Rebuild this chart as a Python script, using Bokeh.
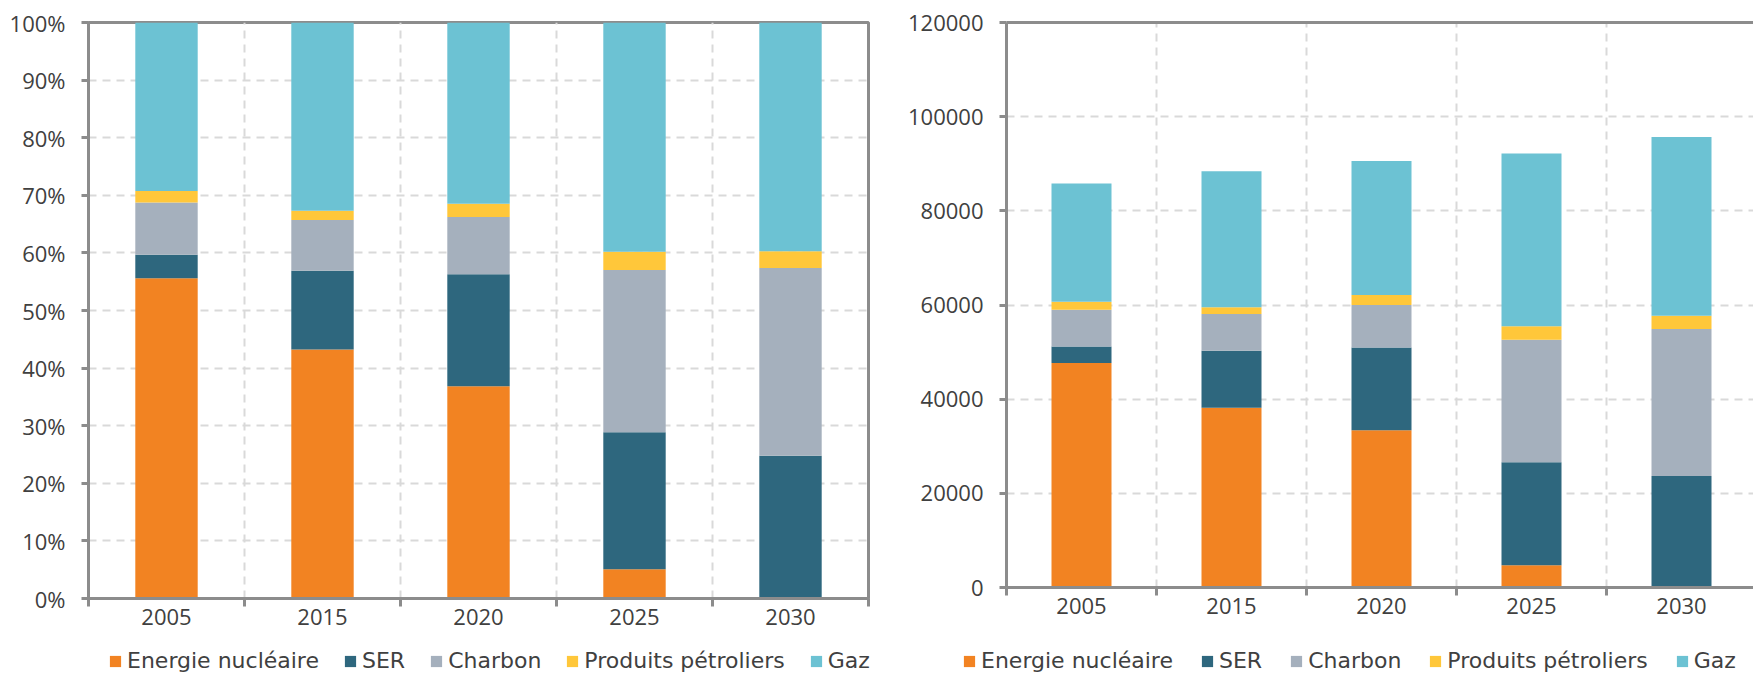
from bokeh.plotting import figure
from bokeh.layouts import row, column
from bokeh.models import (Range1d, FixedTicker, NumeralTickFormatter, Legend,
                          LegendItem, LinearAxis, ColumnDataSource)
from bokeh.embed import file_html
from bokeh.resources import INLINE

years = ["2005", "2015", "2020", "2025", "2030"]
series_names = ["Energie nucléaire", "SER", "Charbon", "Produits pétroliers", "Gaz"]
nucleaire = [47700, 38200, 33400, 4700, 0]
ser = [3500, 12100, 17600, 21900, 23700]
charbon = [7800, 7800, 9000, 26000, 31200]
petrole = [1700, 1400, 2100, 2900, 2800]
gaz = [25100, 28900, 28500, 36700, 38000]
pct_ticks = [0, 0.1, 0.2, 0.3, 0.4, 0.5, 0.6, 0.7, 0.8, 0.9, 1.0]
abs_ticks = [0, 20000, 40000, 60000, 80000, 100000, 120000]

colors = ["#F28322", "#2E677E", "#A5B0BD", "#FFC73A", "#6CC2D3"]
AXIS = "#8C8C8C"
GRID = "#D9D9D9"
TEXT = "#404040"

values = [nucleaire, ser, charbon, petrole, gaz]
keys = ["nuc", "ser", "cha", "pet", "gaz"]
xs = [i + 0.5 for i in range(len(years))]
totals = [sum(v[i] for v in values) for i in range(len(years))]

src_abs = ColumnDataSource(dict(x=xs, **{k: v for k, v in zip(keys, values)}))
src_pct = ColumnDataSource(dict(x=xs, **{k: [v[i] / totals[i] for i in range(len(years))]
                                          for k, v in zip(keys, values)}))

MAIN_H = 638
LEG_H = 37


def make_fig(src, fw, fh, xmax, ymax, yticks, fmt, left, right, top, outline):
    p = figure(frame_width=fw, frame_height=fh,
               x_range=Range1d(0, xmax), y_range=Range1d(0, ymax),
               output_backend="svg", toolbar_location=None,
               min_border_left=left, min_border_right=right, min_border_top=top,
               min_border_bottom=MAIN_H - top - fh)
    p.vbar_stack(keys, x="x", width=0.4, color=colors, line_color=None, source=src)

    xa = p.xaxis[0]
    xa.ticker = FixedTicker(ticks=xs, minor_ticks=list(range(len(years) + 1)))
    xa.major_label_overrides = {x: y for x, y in zip(xs, years)}
    xa.major_tick_out = 0
    xa.major_tick_in = 0
    xa.minor_tick_out = 8
    xa.minor_tick_in = 0
    xa.minor_tick_line_color = AXIS
    xa.minor_tick_line_width = 3
    xa.major_label_standoff = 2

    ya = p.yaxis[0]
    ya.ticker = FixedTicker(ticks=yticks, minor_ticks=[])
    ya.formatter = fmt
    ya.major_tick_out = 7
    ya.major_tick_in = 0
    ya.major_tick_line_color = AXIS
    ya.major_tick_line_width = 3
    ya.major_label_standoff = 16

    for ax in (xa, ya):
        ax.axis_line_color = AXIS
        ax.axis_line_width = 3
        ax.major_label_text_font = "Open Sans"
        ax.major_label_text_font_size = "22px"
        ax.major_label_text_color = TEXT

    p.xgrid.ticker = FixedTicker(ticks=[1, 2, 3, 4])
    p.ygrid.ticker = FixedTicker(ticks=yticks[1:-1])
    for g in (p.xgrid, p.ygrid):
        g.grid_line_color = GRID
        g.grid_line_width = 2
        g.grid_line_dash = "8 6"

    if outline:
        p.outline_line_color = AXIS
        p.outline_line_width = 3
        p.outline_line_alpha = 1
    else:
        p.outline_line_color = None
        top_ax = LinearAxis(ticker=FixedTicker(ticks=[]), axis_line_color=AXIS,
                            axis_line_width=3, major_label_text_font_size="0px",
                            major_tick_out=0, major_tick_in=0, minor_tick_out=0,
                            minor_tick_in=0, major_label_standoff=0)
        p.add_layout(top_ax, "above")
    return p


def make_legend_fig(src, width, x0, spacing):
    # the stacked bars are drawn out of view here; only the legend is visible
    lf = figure(width=width, height=LEG_H, x_range=Range1d(-3, -2), y_range=Range1d(0, 1),
                x_axis_type=None, y_axis_type=None, output_backend="svg",
                toolbar_location=None, min_border=0, outline_line_color=None)
    lf.grid.visible = False
    rs = lf.vbar_stack(keys, x="x", width=0.4, color=colors, line_color=None, source=src)
    legend = Legend(items=[LegendItem(label=n, renderers=[r]) for n, r in zip(series_names, rs)],
                    orientation="horizontal", location=(x0, 2),
                    glyph_width=14, glyph_height=14, label_standoff=5, spacing=spacing,
                    padding=0, margin=0, border_line_color=None,
                    background_fill_alpha=0,
                    label_text_font="DejaVu Sans", label_text_font_size="22px",
                    label_text_color=TEXT, label_height=20)
    lf.add_layout(legend, "center")
    return lf


p1 = make_fig(src_pct, 780, 576, 5, 1, pct_ticks, NumeralTickFormatter(format="0%"),
              88, 32, 22, True)
p2 = make_fig(src_abs, 747, 565, 747 / 150, 120000, abs_ticks, NumeralTickFormatter(format="0"),
              106, 0, 22, False)
l1 = make_legend_fig(src_pct, 900, 108, 24)
l2 = make_legend_fig(src_abs, 853, 62, 27)

layout = column(row(p1, p2), row(l1, l2))
open("out.html", "w").write(file_html(layout, INLINE))
